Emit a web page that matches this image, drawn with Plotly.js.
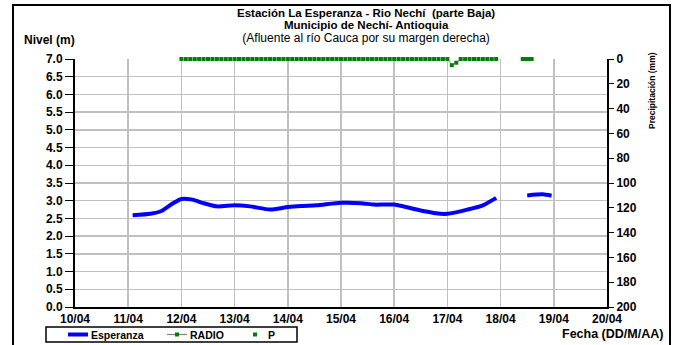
<!DOCTYPE html>
<html><head><meta charset="utf-8">
<script src="https://cdn.plot.ly/plotly-3.0.1.min.js"></script>
<style>html,body{margin:0;padding:0;background:#fff}#c{width:676px;height:345px}</style>
</head><body><div id="c"></div>
<script>
const espTime = ["2011-04-11 02:00","2011-04-11 10:00","2011-04-11 15:00","2011-04-11 20:00","2011-04-12 00:00","2011-04-12 05:00","2011-04-12 10:00","2011-04-12 16:00","2011-04-13 00:00","2011-04-13 07:00","2011-04-13 16:00","2011-04-14 00:00","2011-04-14 06:00","2011-04-14 13:00","2011-04-15 00:00","2011-04-15 09:00","2011-04-15 15:00","2011-04-16 00:00","2011-04-16 13:00","2011-04-16 21:00","2011-04-17 00:00","2011-04-17 09:00","2011-04-17 16:00","2011-04-17 22:00","2011-04-18 06:00","2011-04-18 12:00","2011-04-18 19:00","2011-04-18 23:00"];
const espNivel = [2.59,2.63,2.71,2.92,3.05,3.03,2.93,2.84,2.87,2.84,2.75,2.82,2.85,2.87,2.94,2.93,2.89,2.89,2.71,2.63,2.63,2.75,2.87,3.08,null,3.15,3.18,3.14];
const radioTime = [
 "2011-04-12 00","2011-04-12 02","2011-04-12 04","2011-04-12 06","2011-04-12 08","2011-04-12 10","2011-04-12 12","2011-04-12 14","2011-04-12 16","2011-04-12 18","2011-04-12 20","2011-04-12 22",
 "2011-04-13 00","2011-04-13 02","2011-04-13 04","2011-04-13 06","2011-04-13 08","2011-04-13 10","2011-04-13 12","2011-04-13 14","2011-04-13 16","2011-04-13 18","2011-04-13 20","2011-04-13 22",
 "2011-04-14 00","2011-04-14 02","2011-04-14 04","2011-04-14 06","2011-04-14 08","2011-04-14 10","2011-04-14 12","2011-04-14 14","2011-04-14 16","2011-04-14 18","2011-04-14 20","2011-04-14 22",
 "2011-04-15 00","2011-04-15 02","2011-04-15 04","2011-04-15 06","2011-04-15 08","2011-04-15 10","2011-04-15 12","2011-04-15 14","2011-04-15 16","2011-04-15 18","2011-04-15 20","2011-04-15 22",
 "2011-04-16 00","2011-04-16 02","2011-04-16 04","2011-04-16 06","2011-04-16 08","2011-04-16 10","2011-04-16 12","2011-04-16 14","2011-04-16 16","2011-04-16 18","2011-04-16 20","2011-04-16 22",
 "2011-04-17 00","2011-04-17 02","2011-04-17 04","2011-04-17 06","2011-04-17 08","2011-04-17 10","2011-04-17 12","2011-04-17 14","2011-04-17 16","2011-04-17 18","2011-04-17 20","2011-04-17 22"];
const radioP = [
 0,0,0,0,0,0,0,0,0,0,0,0,
 0,0,0,0,0,0,0,0,0,0,0,0,
 0,0,0,0,0,0,0,0,0,0,0,0,
 0,0,0,0,0,0,0,0,0,0,0,0,
 0,0,0,0,0,0,0,0,0,0,0,0,
 0,5,3,0,0,0,0,0,0,0,0,0];
const pTime = ["2011-04-18 10","2011-04-18 11","2011-04-18 12","2011-04-18 13","2011-04-18 14"];
const pVal = [0,0,0,0,0];
const seriesNames = ["Esperanza", "RADIO", "P"];
const title1 = "Estación La Esperanza - Rio Nechí  (parte Baja)";
const title2 = "Municipio de Nechí- Antioquia";
const title3 = "(Afluente al río Cauca por su margen derecha)";

const F = "Liberation Sans, Arial, sans-serif";
const BLUE = "#0000ff", GREEN = "#008000", GREY = "#808080";
const traces = [
  {x: espTime, y: espNivel, name: seriesNames[0], type: "scatter", mode: "lines", showlegend: false,
   line: {color: BLUE, width: 4, shape: "spline", smoothing: 0.6}, connectgaps: false},
  {x: radioTime, y: radioP, name: seriesNames[1], type: "scatter", mode: "lines+markers", yaxis: "y2", cliponaxis: false, showlegend: false,
   line: {color: GREY, width: 1}, marker: {color: GREEN, size: 4, symbol: "square"}},
  {x: pTime, y: pVal, name: seriesNames[2], type: "scatter", mode: "markers", yaxis: "y2", cliponaxis: false, showlegend: false,
   marker: {color: GREEN, size: 4, symbol: "square"}}
];
const FW = 676, FH = 345;
const px = v => v / FW;
const py = v => 1 - v / FH;
const tf = {family: F, size: 12, weight: "bold", color: "#000"};
const titleText = "<b><span style='font-size:11.5px'>" + title1 + "</span></b><br>" +
  "<b><span style='font-size:11.5px'>" + title2 + "</span></b><br>" +
  "<span style='font-size:12px'>" + title3 + "</span>";

// legend key (drawn as layout decoration, below the date labels like the reference)
const LY = 334.5;
const legShapes = [
  {type: "rect", xref: "paper", yref: "paper", x0: px(46), x1: px(297), y0: py(342), y1: py(327), line: {color: "#000", width: 1.5}, fillcolor: "#fff", layer: "above"},
  {type: "line", xref: "paper", yref: "paper", x0: px(68), x1: px(88), y0: py(LY), y1: py(LY), line: {color: BLUE, width: 4}, layer: "above"},
  {type: "line", xref: "paper", yref: "paper", x0: px(167), x1: px(187), y0: py(LY), y1: py(LY), line: {color: GREY, width: 1.2}, layer: "above"},
  {type: "rect", xref: "paper", yref: "paper", x0: px(175), x1: px(179), y0: py(LY + 2), y1: py(LY - 2), line: {width: 0}, fillcolor: GREEN, layer: "above"},
  {type: "rect", xref: "paper", yref: "paper", x0: px(253), x1: px(257), y0: py(LY + 2), y1: py(LY - 2), line: {width: 0}, fillcolor: GREEN, layer: "above"}
];
const legText = [
  {text: "<b>" + seriesNames[0] + "</b>", x: px(89)},
  {text: "<b>" + seriesNames[1] + "</b>", x: px(188)},
  {text: "<b>" + seriesNames[2] + "</b>", x: px(266)}
].map(a => Object.assign(a, {xref: "paper", yref: "paper", y: py(LY), xanchor: "left", yanchor: "middle", showarrow: false, font: {size: 10.5, family: F}}));

const layout = {
  width: FW, height: FH,
  margin: {l: 0, r: 0, t: 0, b: 0, pad: 0, autoexpand: false},
  paper_bgcolor: "#fff", plot_bgcolor: "#fff",
  font: {family: F, size: 11, color: "#000"},
  showlegend: false,
  xaxis: {type: "date", range: ["2011-04-10", "2011-04-20"], dtick: 86400000, tick0: "2011-04-10",
    domain: [px(75), px(607)], automargin: false,
    tickformat: "%d/%m", showgrid: true, gridcolor: "#c0c0c0", gridwidth: 1.5,
    showline: true, linecolor: "#000", linewidth: 2, ticks: "", ticklabelstandoff: 0,
    tickfont: tf, zeroline: false},
  yaxis: {range: [0, 7], dtick: 0.5, tickformat: ".1f", showgrid: true, gridcolor: "#c0c0c0", gridwidth: 1.5,
    domain: [py(307), py(59)], automargin: false,
    showline: true, linecolor: "#000", linewidth: 2, ticks: "outside", ticklen: 8, tickcolor: "#000",
    tickfont: tf, zeroline: false},
  yaxis2: {range: [200, 0], dtick: 20, overlaying: "y", side: "right", showgrid: false, automargin: false,
    showline: true, linecolor: "#000", linewidth: 2, ticks: "outside", ticklen: 5, tickcolor: "#000",
    tickfont: tf, zeroline: false},
  yaxis3: {range: [200, 0], dtick: 20, overlaying: "y", side: "right", showgrid: false, automargin: false,
    showline: false, ticks: "inside", ticklen: 5, tickcolor: "#000", showticklabels: false, zeroline: false},
  annotations: [
    {text: titleText, xref: "paper", yref: "paper", x: px(366), y: py(26.5), yanchor: "middle", showarrow: false, font: {size: 9.5, family: F}},
    {text: "<b>Nivel (m)</b>", xref: "paper", yref: "paper", x: px(22), y: py(40), xanchor: "left", yanchor: "middle", showarrow: false, font: {size: 12, family: F}},
    {text: "<b>Fecha (DD/M/AA)</b>", xref: "paper", yref: "paper", x: px(665), y: py(334), xanchor: "right", yanchor: "middle", showarrow: false, font: {size: 12.5, family: F}},
    {text: "<b>Precipitación (mm)</b>", xref: "paper", yref: "paper", x: px(659), y: py(91), textangle: -90, yanchor: "middle", showarrow: false, font: {size: 8.5, family: F}}
  ].concat(legText),
  shapes: [
    {type: "rect", xref: "paper", yref: "paper", x0: px(13), x1: px(670), y0: py(360), y1: py(5), line: {color: "#000", width: 2}, layer: "above"}
  ].concat(legShapes)
};
Plotly.newPlot("c", traces, layout, {displayModeBar: false, staticPlot: true});
</script></body></html>
